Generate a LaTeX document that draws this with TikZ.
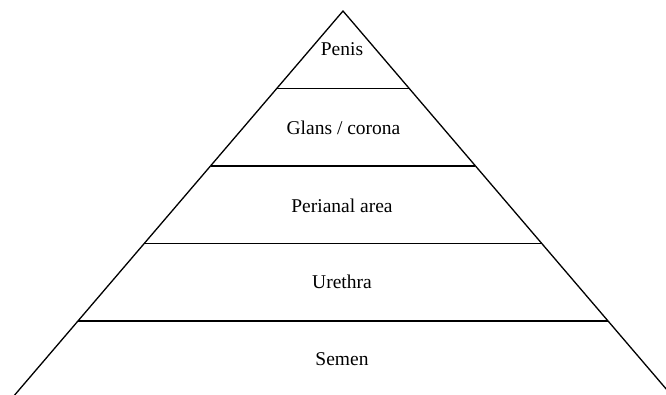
\documentclass[tikz,border=0pt]{standalone}
\usepackage{fontspec}
\setmainfont{Liberation Serif}
\begin{document}
\begin{tikzpicture}[x=1pt,y=-1pt,
  side/.style={line width=1.3pt},
  tier/.style={line width=1.6pt},
  lbl/.style={anchor=base,inner sep=0pt,font=\fontsize{19.5}{22}\selectfont}]
\useasboundingbox (0,0) rectangle (666,394);
\clip (0,0) rectangle (666,394);
\coordinate (apex) at (343,11);
\coordinate (bl) at (343-0.855*400,411);
\coordinate (br) at (343+0.855*400,411);
\draw[side,line join=miter] (bl) -- (apex) -- (br);
\foreach \y/\n in {88.3/a,165.7/b,243.3/c,321/d}{
  \coordinate (l\n) at (343-0.855*\y+0.855*11,\y);
  \coordinate (r\n) at (343+0.855*\y-0.855*11,\y);
  \draw[tier] (l\n) -- (r\n);
}
\node[lbl] (penis) at (342,55) {Penis};
\node[lbl] (glans) at (343.5,134) {Glans / corona};
\node[lbl] (peri) at (342,212) {Perianal area};
\node[lbl] (ureth) at (342,288) {Urethra};
\node[lbl] (semen) at (342,365) {Semen};
\end{tikzpicture}
\end{document}
